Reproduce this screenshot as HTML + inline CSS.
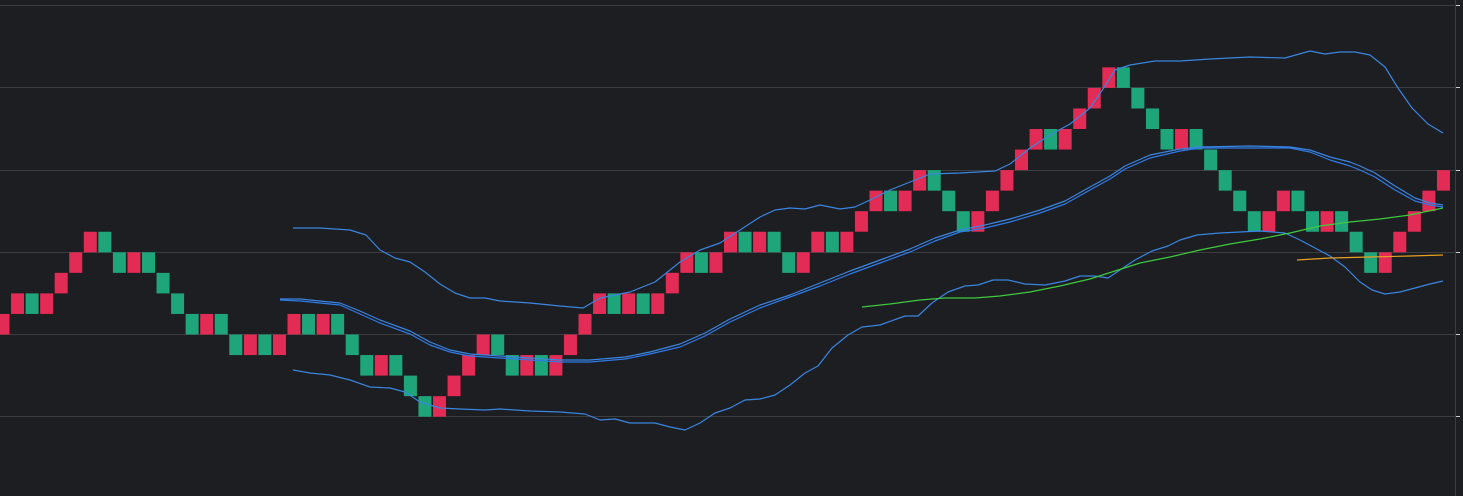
<!DOCTYPE html>
<html><head><meta charset="utf-8"><style>html,body{margin:0;padding:0;background:#1d1e22;}svg{display:block}.r{fill:#e22b55}.g{fill:#1ea67a}</style></head>
<body>
<svg width="1463" height="496" viewBox="0 0 1463 496" xmlns="http://www.w3.org/2000/svg">
<rect width="1463" height="496" fill="#1d1e22"/>
<g stroke="#3c3d41" stroke-width="1">
<line x1="0" y1="5.5" x2="1455" y2="5.5"/><line x1="0" y1="87.5" x2="1455" y2="87.5"/>
<line x1="0" y1="170.5" x2="1455" y2="170.5"/><line x1="0" y1="252.5" x2="1455" y2="252.5"/>
<line x1="0" y1="334.5" x2="1455" y2="334.5"/><line x1="0" y1="416.5" x2="1455" y2="416.5"/>
<line x1="1455.5" y1="0" x2="1455.5" y2="496"/>
</g>
<g stroke="#ccc" stroke-width="1">
<line x1="1456" y1="5.5" x2="1460" y2="5.5"/><line x1="1456" y1="87.5" x2="1460" y2="87.5"/>
<line x1="1456" y1="170.5" x2="1460" y2="170.5"/><line x1="1456" y1="252.5" x2="1460" y2="252.5"/>
<line x1="1456" y1="334.5" x2="1460" y2="334.5"/><line x1="1456" y1="416.5" x2="1460" y2="416.5"/>
</g>
<g>
<rect class="r" x="-3.5" y="313.95" width="13" height="20.55"/>
<rect class="r" x="11.05" y="293.4" width="13" height="20.55"/>
<rect class="g" x="25.6" y="293.4" width="13" height="20.55"/>
<rect class="r" x="40.15" y="293.4" width="13" height="20.55"/>
<rect class="r" x="54.7" y="272.85" width="13" height="20.55"/>
<rect class="r" x="69.25" y="252.3" width="13" height="20.55"/>
<rect class="r" x="83.8" y="231.75" width="13" height="20.55"/>
<rect class="g" x="98.35" y="231.75" width="13" height="20.55"/>
<rect class="g" x="112.9" y="252.3" width="13" height="20.55"/>
<rect class="r" x="127.45" y="252.3" width="13" height="20.55"/>
<rect class="g" x="142" y="252.3" width="13" height="20.55"/>
<rect class="g" x="156.55" y="272.85" width="13" height="20.55"/>
<rect class="g" x="171.1" y="293.4" width="13" height="20.55"/>
<rect class="g" x="185.65" y="313.95" width="13" height="20.55"/>
<rect class="r" x="200.2" y="313.95" width="13" height="20.55"/>
<rect class="g" x="214.75" y="313.95" width="13" height="20.55"/>
<rect class="g" x="229.3" y="334.5" width="13" height="20.55"/>
<rect class="r" x="243.85" y="334.5" width="13" height="20.55"/>
<rect class="g" x="258.4" y="334.5" width="13" height="20.55"/>
<rect class="r" x="272.95" y="334.5" width="13" height="20.55"/>
<rect class="r" x="287.5" y="313.95" width="13" height="20.55"/>
<rect class="g" x="302.05" y="313.95" width="13" height="20.55"/>
<rect class="r" x="316.6" y="313.95" width="13" height="20.55"/>
<rect class="g" x="331.15" y="313.95" width="13" height="20.55"/>
<rect class="g" x="345.7" y="334.5" width="13" height="20.55"/>
<rect class="g" x="360.25" y="355.05" width="13" height="20.55"/>
<rect class="r" x="374.8" y="355.05" width="13" height="20.55"/>
<rect class="g" x="389.35" y="355.05" width="13" height="20.55"/>
<rect class="g" x="403.9" y="375.6" width="13" height="20.55"/>
<rect class="g" x="418.45" y="396.15" width="13" height="20.55"/>
<rect class="r" x="433" y="396.15" width="13" height="20.55"/>
<rect class="r" x="447.55" y="375.6" width="13" height="20.55"/>
<rect class="r" x="462.1" y="355.05" width="13" height="20.55"/>
<rect class="r" x="476.65" y="334.5" width="13" height="20.55"/>
<rect class="g" x="491.2" y="334.5" width="13" height="20.55"/>
<rect class="g" x="505.75" y="355.05" width="13" height="20.55"/>
<rect class="r" x="520.3" y="355.05" width="13" height="20.55"/>
<rect class="g" x="534.85" y="355.05" width="13" height="20.55"/>
<rect class="r" x="549.4" y="355.05" width="13" height="20.55"/>
<rect class="r" x="563.95" y="334.5" width="13" height="20.55"/>
<rect class="r" x="578.5" y="313.95" width="13" height="20.55"/>
<rect class="r" x="593.05" y="293.4" width="13" height="20.55"/>
<rect class="g" x="607.6" y="293.4" width="13" height="20.55"/>
<rect class="r" x="622.15" y="293.4" width="13" height="20.55"/>
<rect class="g" x="636.7" y="293.4" width="13" height="20.55"/>
<rect class="r" x="651.25" y="293.4" width="13" height="20.55"/>
<rect class="r" x="665.8" y="272.85" width="13" height="20.55"/>
<rect class="r" x="680.35" y="252.3" width="13" height="20.55"/>
<rect class="g" x="694.9" y="252.3" width="13" height="20.55"/>
<rect class="r" x="709.45" y="252.3" width="13" height="20.55"/>
<rect class="r" x="724" y="231.75" width="13" height="20.55"/>
<rect class="g" x="738.55" y="231.75" width="13" height="20.55"/>
<rect class="r" x="753.1" y="231.75" width="13" height="20.55"/>
<rect class="g" x="767.65" y="231.75" width="13" height="20.55"/>
<rect class="g" x="782.2" y="252.3" width="13" height="20.55"/>
<rect class="r" x="796.75" y="252.3" width="13" height="20.55"/>
<rect class="r" x="811.3" y="231.75" width="13" height="20.55"/>
<rect class="g" x="825.85" y="231.75" width="13" height="20.55"/>
<rect class="r" x="840.4" y="231.75" width="13" height="20.55"/>
<rect class="r" x="854.95" y="211.2" width="13" height="20.55"/>
<rect class="r" x="869.5" y="190.65" width="13" height="20.55"/>
<rect class="g" x="884.05" y="190.65" width="13" height="20.55"/>
<rect class="r" x="898.6" y="190.65" width="13" height="20.55"/>
<rect class="r" x="913.15" y="170.1" width="13" height="20.55"/>
<rect class="g" x="927.7" y="170.1" width="13" height="20.55"/>
<rect class="g" x="942.25" y="190.65" width="13" height="20.55"/>
<rect class="g" x="956.8" y="211.2" width="13" height="20.55"/>
<rect class="r" x="971.35" y="211.2" width="13" height="20.55"/>
<rect class="r" x="985.9" y="190.65" width="13" height="20.55"/>
<rect class="r" x="1000.45" y="170.1" width="13" height="20.55"/>
<rect class="r" x="1015" y="149.55" width="13" height="20.55"/>
<rect class="r" x="1029.55" y="129" width="13" height="20.55"/>
<rect class="g" x="1044.1" y="129" width="13" height="20.55"/>
<rect class="r" x="1058.65" y="129" width="13" height="20.55"/>
<rect class="r" x="1073.2" y="108.45" width="13" height="20.55"/>
<rect class="r" x="1087.75" y="87.9" width="13" height="20.55"/>
<rect class="r" x="1102.3" y="67.35" width="13" height="20.55"/>
<rect class="g" x="1116.85" y="67.35" width="13" height="20.55"/>
<rect class="g" x="1131.4" y="87.9" width="13" height="20.55"/>
<rect class="g" x="1145.95" y="108.45" width="13" height="20.55"/>
<rect class="g" x="1160.5" y="129" width="13" height="20.55"/>
<rect class="r" x="1175.05" y="129" width="13" height="20.55"/>
<rect class="g" x="1189.6" y="129" width="13" height="20.55"/>
<rect class="g" x="1204.15" y="149.55" width="13" height="20.55"/>
<rect class="g" x="1218.7" y="170.1" width="13" height="20.55"/>
<rect class="g" x="1233.25" y="190.65" width="13" height="20.55"/>
<rect class="g" x="1247.8" y="211.2" width="13" height="20.55"/>
<rect class="r" x="1262.35" y="211.2" width="13" height="20.55"/>
<rect class="r" x="1276.9" y="190.65" width="13" height="20.55"/>
<rect class="g" x="1291.45" y="190.65" width="13" height="20.55"/>
<rect class="g" x="1306" y="211.2" width="13" height="20.55"/>
<rect class="r" x="1320.55" y="211.2" width="13" height="20.55"/>
<rect class="g" x="1335.1" y="211.2" width="13" height="20.55"/>
<rect class="g" x="1349.65" y="231.75" width="13" height="20.55"/>
<rect class="g" x="1364.2" y="252.3" width="13" height="20.55"/>
<rect class="r" x="1378.75" y="252.3" width="13" height="20.55"/>
<rect class="r" x="1393.3" y="231.75" width="13" height="20.55"/>
<rect class="r" x="1407.85" y="211.2" width="13" height="20.55"/>
<rect class="r" x="1422.4" y="190.65" width="13" height="20.55"/>
<rect class="r" x="1436.95" y="170.1" width="13" height="20.55"/>
</g>
<g fill="none" stroke-width="1.2" stroke-linejoin="round">
<polyline stroke="#3a85e0" points="293,228 320,228 350,230 366,235 380,250 395,258 410,262 425,272 440,284 455,293 470,298 485,298 500,301 530,303 560,306 583,308 600,298 630,292 655,282 680,262 700,250 720,243 740,230 760,217 775,210 790,208 805,209 820,205 840,209 855,207 870,200 890,190 910,182 930,174 960,173 995,171 1010,164 1030,148 1050,135 1070,124 1090,108 1105,86 1115,70 1130,65 1155,61 1180,61 1210,59 1250,57 1285,58 1310,51 1325,54 1340,52 1355,52 1370,55 1385,67 1398,88 1412,108 1428,124 1443,133"/>
<polyline stroke="#3a85e0" points="280,299 300,299 340,303 360,311 380,320 410,331 430,342 450,350 470,354 500,356 530,358 560,360 590,360 625,357 650,352 680,344 705,333 730,319 760,305 790,295 820,283 850,271 880,260 910,249 935,238 960,230 985,225 1010,219 1040,210 1065,201 1090,187 1110,176 1125,166 1150,155 1180,149 1200,147 1250,146 1290,147 1310,150 1330,157 1350,162 1360,166 1375,173 1395,186 1415,198 1430,203 1443,205"/>
<polyline stroke="#2f7ae8" points="280,300 300,301 340,305 360,314 380,323 410,334 430,345 450,352 470,356 500,358 530,360 560,362 590,362 625,359 650,354 680,347 705,336 730,322 760,308 790,297 820,286 850,274 880,263 910,252 935,241 960,232 985,228 1010,222 1040,213 1065,204 1090,190 1110,179 1125,169 1150,158 1180,151 1200,148 1250,148 1290,148 1310,152 1330,160 1350,166 1360,170 1375,177 1395,190 1415,201 1430,205 1443,207"/>
<polyline stroke="#3a85e0" points="293,370 310,373 330,375 350,380 370,387 390,388 405,392 420,402 440,408 460,409 485,410 500,409 530,411 560,412 585,414 600,420 615,419 630,423 655,423 670,427 685,430 700,423 715,413 730,408 745,400 760,399 775,395 790,385 805,373 818,366 832,348 848,335 862,327 880,325 905,316 918,316 932,303 948,292 965,286 978,285 993,280 1008,280 1025,284 1045,285 1065,281 1080,276 1095,276 1108,278 1120,270 1135,260 1152,251 1168,246 1180,240 1197,235 1220,233 1260,231 1285,233 1300,240 1315,248 1330,256 1345,267 1360,282 1372,290 1385,294 1400,292 1415,288 1430,284 1443,281"/>
<polyline stroke="#3ec93e" points="862,307 890,304 920,300 945,298 975,298 1000,296 1030,292 1060,286 1090,279 1115,271 1140,263 1170,257 1200,250 1230,244 1260,239 1290,233 1320,226 1350,222 1380,219 1410,215 1443,208"/>
<polyline stroke="#e8a020" points="1297,260 1330,258 1370,257 1410,256 1443,255"/>
</g>
</svg>
</body></html>
